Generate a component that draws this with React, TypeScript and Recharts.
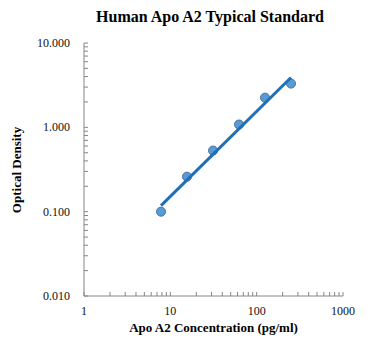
import React from 'react';
import { ScatterChart, Scatter, XAxis, YAxis } from 'recharts';

// standard curve readings
const concentration = [7.8, 15.6, 31.25, 62.5, 125, 250];
const opticalDensity = [0.1, 0.26, 0.53, 1.08, 2.25, 3.3];

// power trendline end points (straight on log-log)
const fitConcentration = [7.8, 250];
const fitDensity = [0.118, 3.9];

const xTicks = [
  1, 2, 3, 4, 5, 6, 7, 8, 9,
  10, 20, 30, 40, 50, 60, 70, 80, 90,
  100, 200, 300, 400, 500, 600, 700, 800, 900,
  1000,
];
const yTicks = [
  0.01, 0.02, 0.03, 0.04, 0.05, 0.06, 0.07, 0.08, 0.09,
  0.1, 0.2, 0.3, 0.4, 0.5, 0.6, 0.7, 0.8, 0.9,
  1, 2, 3, 4, 5, 6, 7, 8, 9,
  10,
];

const points = concentration.map((c, i) => ({ x: c, y: opticalDensity[i] }));
const fit = fitConcentration.map((c, i) => ({ x: c, y: fitDensity[i] }));

const serif = '"Liberation Serif", "Times New Roman", serif';
const axisGray = '#868686';

const isMajor = (v: number) => Math.abs(Math.log10(v) - Math.round(Math.log10(v))) < 1e-6;

function XTick({ x, y, payload }: any) {
  const v = payload.value;
  return (
    <g>
      <line x1={x} y1={y} x2={x} y2={y - 4} stroke={axisGray} strokeWidth={1} />
      {isMajor(v) && (
        <text x={x} y={y + 15} textAnchor="middle" dominantBaseline="central"
          fontFamily={serif} fontSize={12} fill="#111">
          {v}
        </text>
      )}
    </g>
  );
}

function YTick({ x, y, payload }: any) {
  const v = payload.value;
  return (
    <g>
      <line x1={x} y1={y} x2={x + 4} y2={y} stroke={axisGray} strokeWidth={1} />
      {isMajor(v) && (
        <text x={x - 14} y={y} textAnchor="end" dominantBaseline="central"
          fontFamily={serif} fontSize={12} fill="#111">
          {v.toFixed(3)}
        </text>
      )}
    </g>
  );
}

const Dot = (props: any) => (
  <circle cx={props.cx} cy={props.cy} r={4.5} fill="#5B9BD5" stroke="#41719C" strokeWidth={1} />
);

export default function App() {
  return (
    <div style={{ position: 'absolute', left: 0, top: 0, width: 369, height: 351, background: '#fff' }}>
      <ScatterChart width={369} height={351} margin={{ top: 43, right: 26, bottom: 0, left: 0 }}>
        <XAxis
          type="number"
          dataKey="x"
          scale="log"
          domain={[1, 1000]}
          ticks={xTicks}
          interval={0}
          tick={<XTick />}
          tickLine={false}
          tickSize={0}
          tickMargin={0}
          height={55}
          stroke={axisGray}
          allowDataOverflow
        />
        <YAxis
          type="number"
          dataKey="y"
          scale="log"
          domain={[0.01, 10]}
          ticks={yTicks}
          interval={0}
          tick={<YTick />}
          tickLine={false}
          tickSize={0}
          tickMargin={0}
          width={84}
          stroke={axisGray}
          allowDataOverflow
        />
        <Scatter data={points} shape={Dot} isAnimationActive={false} />
        <Scatter
          data={fit}
          line={{ stroke: '#1F70B8', strokeWidth: 3 }}
          lineType="joint"
          shape={() => <g />}
          isAnimationActive={false}
        />
      </ScatterChart>
      <div style={{ position: 'absolute', left: 210, top: 17, transform: 'translate(-50%, -50%)', whiteSpace: 'nowrap',
        fontFamily: serif, fontWeight: 'bold', fontSize: 16, color: '#000' }}>
        Human Apo A2 Typical Standard
      </div>
      <div style={{ position: 'absolute', left: 213.5, top: 328, transform: 'translate(-50%, -50%)', whiteSpace: 'nowrap',
        fontFamily: serif, fontWeight: 'bold', fontSize: 13, color: '#000' }}>
        Apo A2 Concentration (pg/ml)
      </div>
      <div style={{ position: 'absolute', left: 17, top: 170, transform: 'translate(-50%, -50%) rotate(-90deg)', whiteSpace: 'nowrap',
        fontFamily: serif, fontWeight: 'bold', fontSize: 13, color: '#000' }}>
        Optical Density
      </div>
    </div>
  );
}
